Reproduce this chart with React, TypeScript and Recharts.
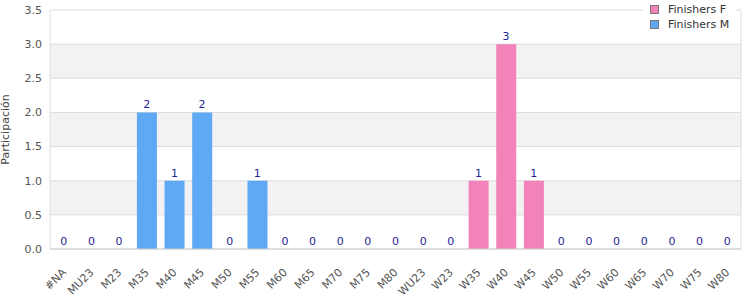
import React from "react";
import {
  ComposedChart,
  Bar,
  Line,
  XAxis,
  YAxis,
  CartesianGrid,
  LabelList,
} from "recharts";

const categories = [
  "#NA", "MU23", "M23", "M35", "M40", "M45", "M50", "M55", "M60", "M65",
  "M70", "M75", "M80", "WU23", "W23", "W35", "W40", "W45", "W50", "W55",
  "W60", "W65", "W70", "W75", "W80",
];
const finishersF = [
  0, 0, 0, 0, 0, 0, 0, 0, 0, 0, 0, 0, 0, 0, 0, 1, 3, 1, 0, 0, 0, 0, 0, 0, 0,
];
const finishersM = [
  0, 0, 0, 2, 1, 2, 0, 1, 0, 0, 0, 0, 0, 0, 0, 0, 0, 0, 0, 0, 0, 0, 0, 0, 0,
];
const yTicks = [0, 0.5, 1, 1.5, 2, 2.5, 3, 3.5];

const COLOR_F = "#f283b8";
const COLOR_M = "#5fa8f4";
const FONT = "'DejaVu Sans', sans-serif";

const data = categories.map((cat, i) => ({
  cat,
  F: finishersF[i],
  M: finishersM[i],
  total: finishersF[i] + finishersM[i],
}));

const legendItems = [
  { name: "Finishers F", color: COLOR_F },
  { name: "Finishers M", color: COLOR_M },
];

const XTick = (props: any) => {
  const { x, y, payload } = props;
  return (
    <g transform={`translate(${x + 3},${y + 16}) rotate(-45)`}>
      <text textAnchor="end" fontSize={11} fill="#555" fontFamily={FONT}>
        {payload.value}
      </text>
    </g>
  );
};

export default function App() {
  return (
    <div style={{ position: "absolute", left: 0, top: 0, width: 750, height: 300 }}>
      <ComposedChart
        width={750}
        height={300}
        data={data}
        margin={{ top: 10, right: 8, bottom: 0, left: 0 }}
      >
        <CartesianGrid
          vertical={false}
          stroke="#dddddd"
          horizontalFill={["#ffffff", "#f2f2f2"]}
          fillOpacity={1}
        />
        <XAxis
          dataKey="cat"
          interval={0}
          height={51}
          tickLine={false}
          axisLine={{ stroke: "#cccccc" }}
          tick={<XTick />}
        />
        <YAxis
          domain={[0, 3.5]}
          ticks={yTicks}
          width={50}
          tickLine={false}
          axisLine={{ stroke: "#dddddd" }}
          tickFormatter={(v: number) => v.toFixed(1)}
          tick={{ fontSize: 11, fill: "#555", fontFamily: FONT }}
          label={{
            value: "Participación",
            angle: -90,
            position: "insideLeft",
            offset: 5,
            style: { fontSize: 11, fill: "#444", fontFamily: FONT, textAnchor: "middle" },
          }}
        />
        <YAxis
          yAxisId="right"
          orientation="right"
          width={1}
          domain={[0, 3.5]}
          tick={false}
          tickLine={false}
          axisLine={{ stroke: "#dddddd" }}
        />
        <Bar dataKey="F" stackId="a" fill={COLOR_F} barSize={20} isAnimationActive={false} />
        <Bar dataKey="M" stackId="a" fill={COLOR_M} barSize={20} isAnimationActive={false} />
        <Line
          dataKey="total"
          stroke="none"
          dot={false}
          activeDot={false}
          isAnimationActive={false}
        >
          <LabelList
            dataKey="total"
            position="top"
            offset={4}
            style={{ fontSize: 11, fill: "#1f1f95", fontFamily: FONT }}
          />
        </Line>
      </ComposedChart>
      <div
        style={{
          position: "absolute",
          top: 0,
          left: 643,
          width: 93,
          height: 32,
          background: "#fff",
          fontFamily: FONT,
          fontSize: 11,
          color: "#333",
          paddingTop: 2,
          boxSizing: "border-box",
        }}
      >
        {legendItems.map((item) => (
          <div
            key={item.name}
            style={{ display: "flex", alignItems: "center", height: 15 }}
          >
            <span
              style={{
                display: "inline-block",
                width: 7,
                height: 7,
                background: item.color,
                border: "1px solid #777",
                marginLeft: 7,
                marginRight: 9,
              }}
            />
            <span>{item.name}</span>
          </div>
        ))}
      </div>
    </div>
  );
}
